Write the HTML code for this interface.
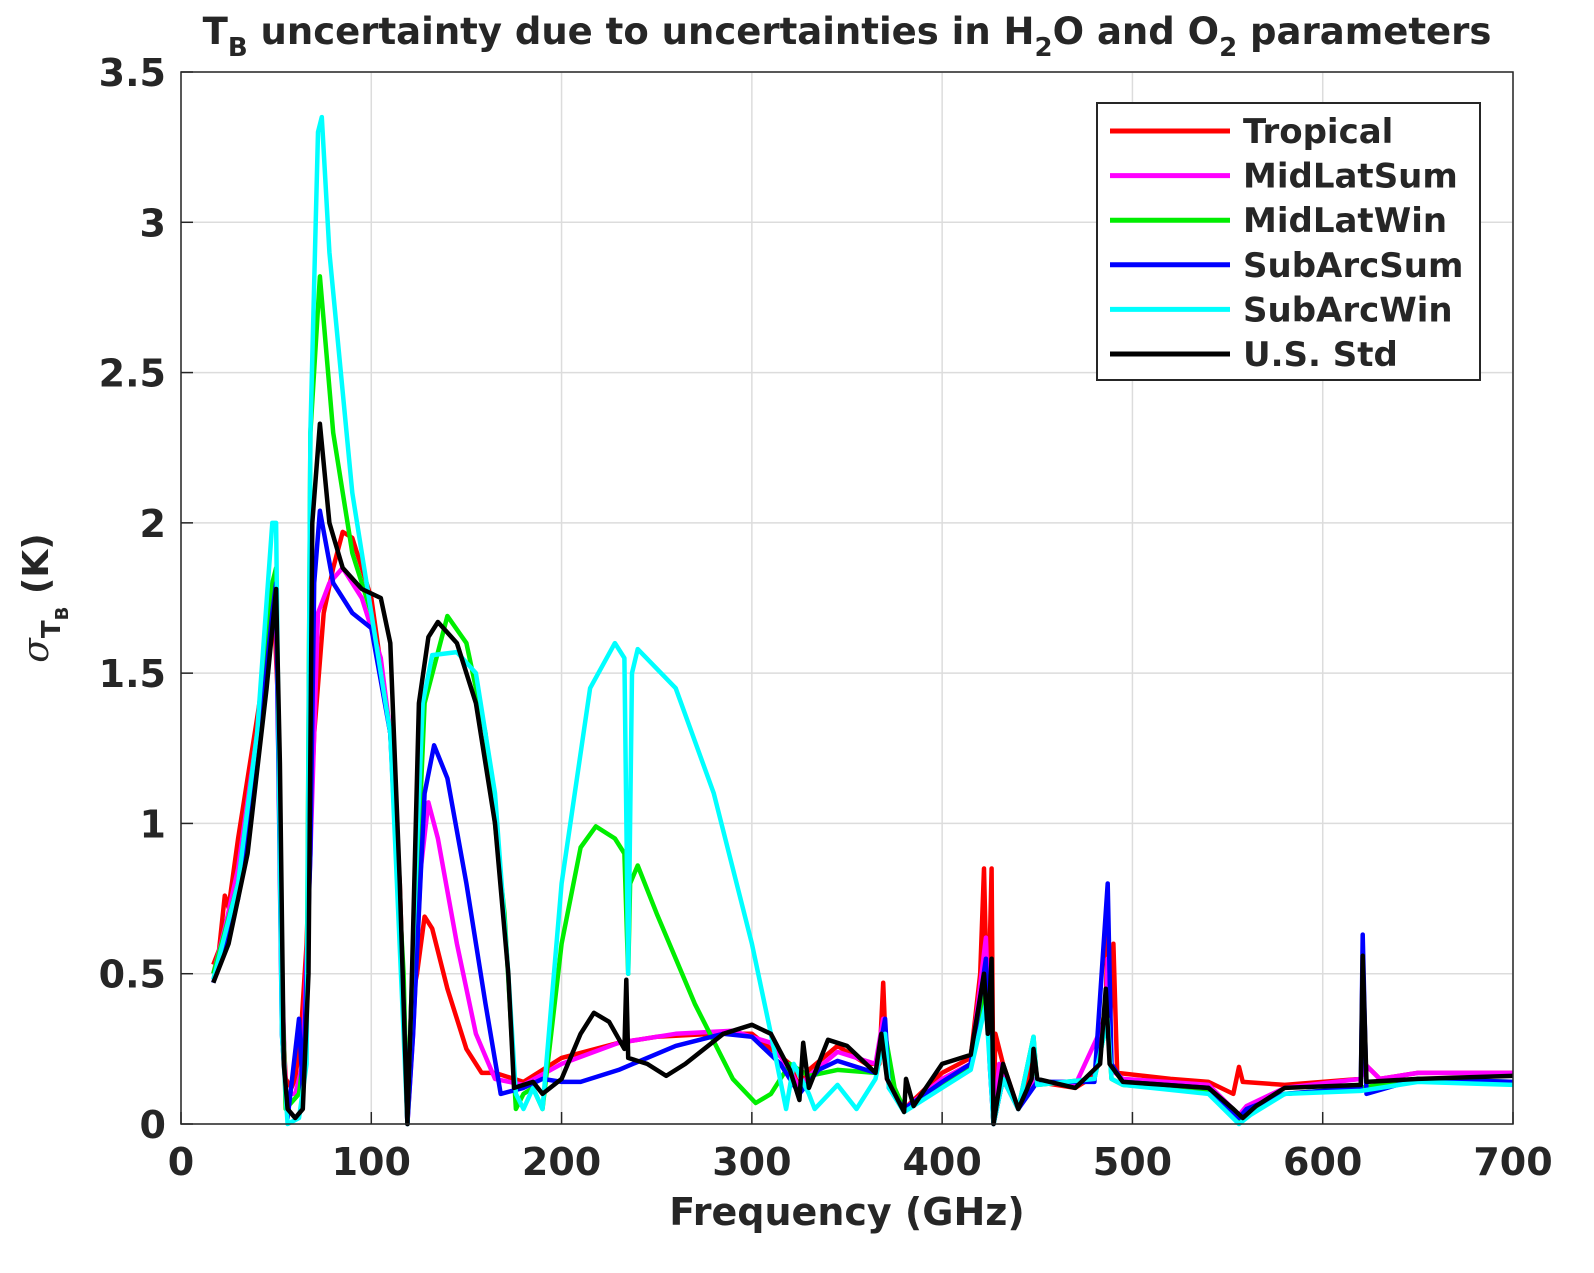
<!DOCTYPE html>
<html><head><meta charset="utf-8"><style>
body{margin:0;background:#fff}
svg text{font-family:"DejaVu Sans","Liberation Sans",sans-serif;font-weight:bold;fill:#262626}
</style></head><body>
<svg id="c" width="1594" height="1268" xmlns="http://www.w3.org/2000/svg">
<rect width="1594" height="1268" fill="#fff"/>
<g id="grid"></g><g id="series"></g><g id="axes"></g>
<text x="847" y="44" font-size="37" text-anchor="middle">T<tspan font-size="26" dy="12">B</tspan><tspan dy="-12"> uncertainty due to uncertainties in H</tspan><tspan font-size="26" dy="12">2</tspan><tspan dy="-12">O and O</tspan><tspan font-size="26" dy="12">2</tspan><tspan dy="-12"> parameters</tspan></text>
<text x="847" y="1225" font-size="38" text-anchor="middle">Frequency (GHz)</text>
<g transform="translate(48,598) rotate(-90)"><text x="0" y="0" font-size="36" text-anchor="middle"><tspan font-family="DejaVu Serif" font-style="italic" font-weight="normal">σ</tspan><tspan font-size="26" dy="12">T</tspan><tspan font-size="18" dy="8">B</tspan><tspan dy="-20">  (K)</tspan></text></g>
<g id="legend"></g>
</svg>
<script>
const xTicks=[0,100,200,300,400,500,600,700];
const yTicks=[0,0.5,1,1.5,2,2.5,3,3.5];
const yTickLabels=["0","0.5","1","1.5","2","2.5","3","3.5"];
const names=["Tropical","MidLatSum","MidLatWin","SubArcSum","SubArcWin","U.S. Std"];
const colors=["#ff0000","#ff00ff","#00ee00","#0000ff","#00ffff","#000000"];
const fTrop=[17,20,23,25,30,40,46,49,51,53,55,58,60,63,66,68,70,75,80,85,90,100,110,115,118,119,121,124,128,132,140,150,158,165,180,200,230,250,280,300,320,325,330,345,360,367,369,371,380,385,400,415,420,422,424,426,427,428,432,440,445,448,450,470,480,486,487,488,490,492,520,540,553,556,558,580,620,622,630,650,700];
const vTrop=[0.53,0.58,0.76,0.72,0.95,1.35,1.6,1.7,1.4,0.4,0.15,0.12,0.15,0.3,0.6,1.0,1.3,1.7,1.85,1.97,1.95,1.75,1.3,0.8,0.2,0.0,0.4,0.5,0.69,0.65,0.45,0.25,0.17,0.17,0.14,0.22,0.27,0.29,0.3,0.3,0.2,0.12,0.18,0.26,0.2,0.2,0.47,0.15,0.05,0.08,0.17,0.22,0.5,0.85,0.3,0.85,0,0.3,0.2,0.05,0.13,0.25,0.14,0.12,0.16,0.4,0.66,0.3,0.6,0.17,0.15,0.14,0.1,0.19,0.14,0.13,0.15,0.2,0.15,0.17,0.17];
const fMLS=[17,23,30,40,48,50,53,55,60,64,68,72,78,85,95,105,112,117,119,122,126,130,135,145,155,165,180,200,230,260,290,310,320,325,330,345,365,369,371,380,400,415,423,425,427,430,440,448,450,470,486,487,489,495,540,556,560,580,620,622,630,650,700];
const vMLS=[0.5,0.65,0.85,1.3,1.65,1.7,0.5,0.1,0.1,0.2,0.9,1.7,1.8,1.85,1.75,1.55,1.2,0.4,0,0.3,0.85,1.07,0.95,0.6,0.3,0.15,0.13,0.2,0.27,0.3,0.31,0.27,0.18,0.12,0.16,0.24,0.2,0.35,0.15,0.05,0.15,0.2,0.62,0.25,0,0.2,0.05,0.15,0.14,0.13,0.35,0.55,0.18,0.15,0.13,0.03,0.06,0.12,0.15,0.2,0.15,0.17,0.17];
const fMLW=[17,30,40,48,50,53,55,62,66,68,73,80,90,100,110,117,119,122,128,140,150,160,170,176,180,185,190,200,210,218,228,233,235,236,240,250,270,290,302,310,320,330,345,365,370,375,380,400,415,423,427,432,440,448,450,480,487,489,495,540,556,562,580,620,650,700];
const vMLW=[0.5,0.8,1.3,1.8,1.85,0.5,0.05,0.1,0.3,2.3,2.82,2.3,1.9,1.7,1.3,0.5,0,0.5,1.4,1.69,1.6,1.3,0.7,0.05,0.1,0.12,0.05,0.6,0.92,0.99,0.95,0.9,0.5,0.8,0.86,0.7,0.4,0.15,0.07,0.1,0.2,0.16,0.18,0.17,0.3,0.12,0.05,0.13,0.19,0.45,0,0.15,0.05,0.29,0.13,0.15,0.35,0.15,0.13,0.11,0.01,0.04,0.1,0.12,0.15,0.14];
const fSAS=[17,30,40,48,50,53,56,62,64,68,70,73,80,90,100,110,117,119,122,128,133,140,150,160,168,180,190,200,210,230,260,285,300,315,325,335,345,365,370,372,380,400,415,423,425,427,432,440,450,480,487,489,495,540,556,560,580,620,621,623,650,700];
const vSAS=[0.47,0.75,1.2,1.7,1.8,0.3,0.02,0.35,0.1,0.9,1.8,2.04,1.8,1.7,1.65,1.3,0.4,0,0.3,1.1,1.26,1.15,0.8,0.4,0.1,0.12,0.15,0.14,0.14,0.18,0.26,0.3,0.29,0.2,0.1,0.18,0.21,0.17,0.35,0.12,0.05,0.14,0.2,0.55,0.2,0,0.15,0.05,0.14,0.14,0.8,0.2,0.14,0.12,0.02,0.05,0.1,0.12,0.63,0.1,0.15,0.14];
const fSAW=[17,30,40,48,50,53,56,62,66,68,72,74,78,90,100,110,117,119,122,127,132,145,155,165,172,176,180,185,190,200,215,228,233,235,237,240,260,280,300,310,318,322,330,333,345,355,365,370,372,380,400,415,423,427,432,440,448,450,480,487,489,495,540,556,562,580,620,650,700];
const vSAW=[0.48,0.8,1.3,2.0,2.0,0.3,0,0.02,0.2,2.3,3.3,3.35,2.9,2.1,1.7,1.3,0.3,0,0.6,1.4,1.56,1.57,1.5,1.1,0.5,0.1,0.05,0.12,0.05,0.8,1.45,1.6,1.55,0.5,1.5,1.58,1.45,1.1,0.6,0.3,0.05,0.2,0.1,0.05,0.13,0.05,0.15,0.3,0.12,0.04,0.12,0.18,0.4,0,0.15,0.05,0.29,0.13,0.15,0.35,0.15,0.13,0.1,0,0.03,0.1,0.11,0.14,0.13];
const fUS=[17,25,35,45,50,52,54,56,60,64,67,69,73,78,85,95,105,110,115,119,121,125,130,135,145,155,165,172,175,185,190,200,210,217,225,233,234,235,245,255,265,285,300,310,320,325,327,330,340,350,365,368,371,380,381,385,400,415,422,424,426,427,432,440,447,448,450,470,483,486,488,495,540,553,558,565,580,620,621,623,650,700];
const vUS=[0.47,0.6,0.9,1.45,1.78,1.2,0.2,0.05,0.02,0.05,0.5,2.0,2.33,2.0,1.85,1.78,1.75,1.6,0.8,0,0.4,1.4,1.62,1.67,1.6,1.4,1.0,0.5,0.12,0.14,0.1,0.15,0.3,0.37,0.34,0.25,0.48,0.22,0.2,0.16,0.2,0.3,0.33,0.3,0.18,0.08,0.27,0.12,0.28,0.26,0.17,0.3,0.15,0.04,0.15,0.06,0.2,0.23,0.5,0.3,0.55,0,0.2,0.05,0.15,0.25,0.15,0.12,0.2,0.45,0.2,0.14,0.12,0.05,0.02,0.06,0.12,0.13,0.56,0.14,0.15,0.16];
const seriesF=[fTrop,fMLS,fMLW,fSAS,fSAW,fUS];
const seriesV=[vTrop,vMLS,vMLW,vSAS,vSAW,vUS];

const X0=181,X1=1513,Y0=1124,Y1=72;
const xs=v=>X0+(v-0)/(700-0)*(X1-X0);
const ys=v=>Y0-(v-0)/(3.5-0)*(Y0-Y1);
const NS="http://www.w3.org/2000/svg";
function mk(t,a,p){const e=document.createElementNS(NS,t);for(const k in a)e.setAttribute(k,a[k]);p.appendChild(e);return e;}
const grid=document.getElementById('grid'),axes=document.getElementById('axes'),ser=document.getElementById('series'),leg=document.getElementById('legend');
xTicks.forEach(t=>{
  const l=mk('line',{x1:xs(t),x2:xs(t),y1:Y0,y2:Y1,stroke:'#dcdcdc','stroke-width':1.5},grid);
  
  
  const tx=mk('text',{x:xs(t),y:Y0+51,'font-size':38,'text-anchor':'middle'},axes);tx.textContent=t;
  
  
  mk('line',{x1:xs(t),x2:xs(t),y1:Y0,y2:Y0-12,stroke:'#262626','stroke-width':1.5},axes);
});
yTicks.forEach((t,i)=>{
  const l=mk('line',{x1:X0,x2:X1,y1:ys(t),y2:ys(t),stroke:'#dcdcdc','stroke-width':1.5},grid);
  
  
  const tx=mk('text',{x:X0-15,y:ys(t)+14,'font-size':38,'text-anchor':'end'},axes);tx.textContent=yTickLabels[i];
  
  
  mk('line',{x1:X0,x2:X0+12,y1:ys(t),y2:ys(t),stroke:'#262626','stroke-width':1.5},axes);
});
const box=mk('rect',{x:X0,y:Y1,width:X1-X0,height:Y0-Y1,fill:'none',stroke:'#262626','stroke-width':1.5},axes);


seriesF.forEach((f,i)=>{
  const d=f.map((x,j)=>(j?'L':'M')+xs(x).toFixed(1)+','+ys(seriesV[i][j]).toFixed(1)).join('');
  const p=mk('path',{d:d,fill:'none',stroke:colors[i],'stroke-width':4.5,'stroke-linejoin':'round'},ser);
  
  
});
mk('rect',{x:1097,y:103,width:383,height:277,fill:'#fff',stroke:'#262626','stroke-width':2},leg);
names.forEach((n,i)=>{
  const y=131+i*44.6;
  const g=mk('g',{},leg);
  
  
  mk('line',{x1:1110,x2:1230,y1:y,y2:y,stroke:colors[i],'stroke-width':5},g);
  const t=mk('text',{x:1243,y:y+12,'font-size':34},g);t.textContent=n;
});
</script>
</body></html>
